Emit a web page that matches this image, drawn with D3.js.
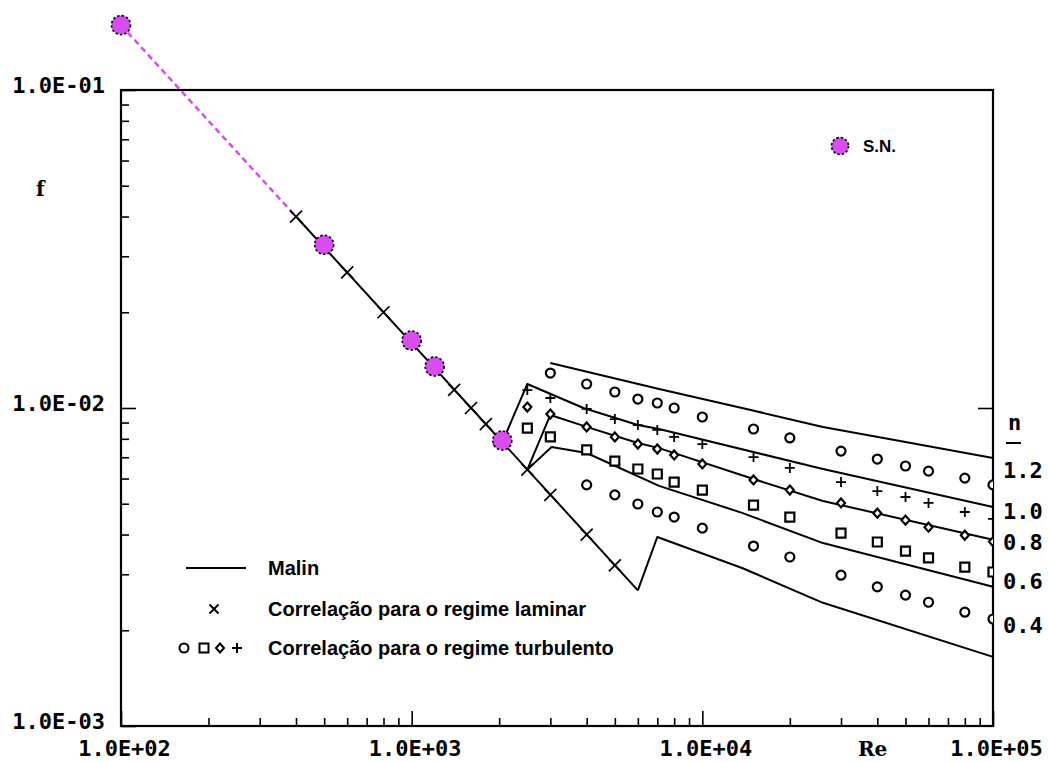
<!DOCTYPE html>
<html>
<head>
<meta charset="utf-8">
<script src="https://cdn.jsdelivr.net/npm/d3@7"></script>
<style>
    body { margin: 0; background: #fff; }
    .tick-label { font-family: "DejaVu Sans Mono", monospace; font-weight: bold; font-size: 22px; }
    .axis-title { font-family: "DejaVu Serif", serif; font-weight: bold; font-size: 20px; }
    .legend-text { font-family: "Liberation Sans", Arial, sans-serif; font-weight: bold; font-size: 20px; }
</style>
</head>
<body>
<div id="chart"></div>
<script>

// ---------------- data ----------------

// axis labels
const xTickValues = [1e2, 1e3, 1e4, 1e5];
const xTickLabels = ["1.0E+02", "1.0E+03", "1.0E+04", "1.0E+05"];
const yTickValues = [1e-3, 1e-2, 1e-1];
const yTickLabels = ["1.0E-03", "1.0E-02", "1.0E-01"];

// S.N. points (magenta dots)
const snRe = [100, 500, 1000, 1200, 2050];
const snF  = [0.16, 0.0326, 0.0163, 0.0135, 0.0079];

// laminar correlation (x markers)
const lamRe = [400, 600, 800, 1000, 1200, 1400, 1600, 1800, 2000, 2500, 3000, 4000, 5000];
const lamF  = [0.04, 0.0267, 0.02, 0.016, 0.0133, 0.0114, 0.01, 0.0089, 0.008, 0.0064, 0.00533, 0.004, 0.0032];

// turbulent correlation, one series per n
const turbRe = [2500, 3000, 4000, 5000, 6000, 7000, 8000, 10000, 15000, 20000, 30000, 40000, 50000, 60000, 80000, 100000];
const turbF12 = [null, 0.01288, 0.01190, 0.01123, 0.01067, 0.01037, 0.01000, 0.00937, 0.00859, 0.00805, 0.00732, 0.00691, 0.00657, 0.00633, 0.00602, 0.00573];
const turbF10 = [0.01139, 0.01075, 0.00993, 0.00923, 0.00884, 0.00853, 0.00811, 0.00770, 0.00701, 0.00648, 0.00585, 0.00548, 0.00525, 0.00503, 0.00471, 0.00448];
const turbF08 = [0.01007, 0.00957, 0.00872, 0.00811, 0.00770, 0.00743, 0.00712, 0.00667, 0.00594, 0.00552, 0.00503, 0.00467, 0.00444, 0.00422, 0.00398, 0.00380];
const turbF06 = [0.00865, 0.00811, 0.00738, 0.00681, 0.00643, 0.00620, 0.00585, 0.00552, 0.00495, 0.00454, 0.00404, 0.00379, 0.00355, 0.00338, 0.00316, 0.00305];
const turbF04 = [null, null, 0.00573, 0.00533, 0.00499, 0.00471, 0.00454, 0.00419, 0.00368, 0.00340, 0.00298, 0.00274, 0.00258, 0.00245, 0.00228, 0.00217];

// Malin curves
const malinDashRe = [100, 400];
const malinDashF  = [0.16, 0.04];
const malinLamRe = [400, 6000];
const malinLamF  = [0.04, 0.00267];
const malin12Re = [3000, 7100, 13700, 26000, 50000, 100000];
const malin12F  = [0.01385, 0.01147, 0.0100, 0.00872, 0.00782, 0.00696];
const malin10Re = [2050, 2500, 3900, 6000, 7100, 26000, 100000];
const malin10F  = [0.0078, 0.0119, 0.0100, 0.00884, 0.00859, 0.00643, 0.00488];
const malin08Re = [2500, 3000, 4000, 6000, 7100, 15000, 26000, 100000];
const malin08F  = [0.0064, 0.00951, 0.00872, 0.00776, 0.00748, 0.00598, 0.00510, 0.00385];
const malin06Re = [2500, 3030, 4000, 7100, 13700, 26000, 100000];
const malin06F  = [0.0064, 0.00754, 0.00722, 0.00569, 0.00468, 0.00376, 0.00274];
const malin04Re = [6000, 7000, 13700, 26000, 100000];
const malin04F  = [0.00267, 0.00393, 0.00314, 0.00244, 0.00165];

// n labels on the right side
const nLabels = ["1.2", "1.0", "0.8", "0.6", "0.4"];
const nLabelF = [0.00638, 0.00474, 0.00379, 0.00286, 0.00208];


class FrictionChart {

    constructor(parentElement) {
        this.parentElement = parentElement;
        this.initVis();
    }

    initVis() {
        let vis = this;

        vis.width = 1048;
        vis.height = 762;
        vis.plot = {left: 121, right: 993, top: 90, bottom: 726};

        vis.svg = d3.select("#" + vis.parentElement).append("svg")
            .attr("width", vis.width)
            .attr("height", vis.height);

        vis.x = d3.scaleLog().domain([1e2, 1e5]).range([vis.plot.left, vis.plot.right]);
        vis.y = d3.scaleLog().domain([1e-3, 1e-1]).range([vis.plot.bottom, vis.plot.top]);

        vis.svg.append("defs").append("clipPath")
            .attr("id", "plot-clip")
            .append("rect")
            .attr("x", vis.plot.left)
            .attr("y", vis.plot.top)
            .attr("width", vis.plot.right - vis.plot.left)
            .attr("height", vis.plot.bottom - vis.plot.top);

        // minor ticks 2..9 in each decade
        let minorX = [], minorY = [];
        [1e2, 1e3, 1e4].forEach(d => d3.range(2, 10).forEach(k => minorX.push(d * k)));
        [1e-3, 1e-2].forEach(d => d3.range(2, 10).forEach(k => minorY.push(d * k)));

        let xMinor = vis.svg.append("g")
            .attr("transform", `translate(0,${vis.plot.bottom})`)
            .call(d3.axisBottom(vis.x).tickValues(minorX).tickSize(-8).tickFormat(""));
        let yMinor = vis.svg.append("g")
            .attr("transform", `translate(${vis.plot.left},0)`)
            .call(d3.axisLeft(vis.y).tickValues(minorY).tickSize(-8).tickFormat(""));

        let xMajor = vis.svg.append("g")
            .attr("transform", `translate(0,${vis.plot.bottom})`)
            .call(d3.axisBottom(vis.x).tickValues(xTickValues).tickSize(-15).tickPadding(14)
                .tickFormat((d, i) => xTickLabels[i]));
        let yMajor = vis.svg.append("g")
            .attr("transform", `translate(${vis.plot.left},0)`)
            .call(d3.axisLeft(vis.y).tickValues(yTickValues).tickSize(-15).tickPadding(14)
                .tickFormat((d, i) => yTickLabels[i]));
        let yRight = vis.svg.append("g")
            .attr("transform", `translate(${vis.plot.right},0)`)
            .call(d3.axisRight(vis.y).tickValues([1e-2]).tickSize(-15).tickFormat(""));

        [xMinor, yMinor, xMajor, yMajor, yRight].forEach(g => {
            g.select(".domain").remove();
            g.selectAll(".tick line").attr("stroke", "#000").attr("stroke-width", 1.6);
        });

        xMajor.selectAll("text").attr("class", "tick-label").attr("fill", "#000").attr("dx", 3);
        yMajor.selectAll("text").attr("class", "tick-label").attr("fill", "#000").attr("dx", -2).attr("dy", "0.1em");

        // frame
        vis.svg.append("rect")
            .attr("x", vis.plot.left)
            .attr("y", vis.plot.top)
            .attr("width", vis.plot.right - vis.plot.left)
            .attr("height", vis.plot.bottom - vis.plot.top)
            .attr("fill", "none")
            .attr("stroke", "#000")
            .attr("stroke-width", 2.2);

        // axis titles
        vis.svg.append("text").attr("class", "axis-title").attr("x", 36).attr("y", 196).text("f");
        vis.svg.append("text").attr("class", "axis-title").attr("x", 858).attr("y", 756).text("Re");
        vis.svg.append("text").attr("class", "tick-label").attr("x", 1008).attr("y", 430).text("n");
        vis.svg.append("line")
            .attr("x1", 1006).attr("x2", 1021).attr("y1", 443).attr("y2", 443)
            .attr("stroke", "#000").attr("stroke-width", 2);

        vis.svg.selectAll(".n-label")
            .data(nLabels)
            .enter()
            .append("text")
            .attr("class", "tick-label n-label")
            .attr("x", 1003)
            .attr("y", (d, i) => vis.y(nLabelF[i]))
            .attr("dy", "0.36em")
            .text(d => d);

        vis.updateVis();
    }

    updateVis() {
        let vis = this;

        let line = d3.line()
            .x(d => vis.x(d[0]))
            .y(d => vis.y(d[1]));

        let zip = (a, b) => a.map((d, i) => [d, b[i]]);

        // dashed extension of the S.N. points
        vis.svg.append("path")
            .attr("d", line(zip(malinDashRe, malinDashF)))
            .attr("fill", "none")
            .attr("stroke", "#d64ee8")
            .attr("stroke-width", 2.5)
            .attr("stroke-dasharray", "6,4");

        // Malin curves
        let malin = [
            zip(malinLamRe, malinLamF),
            zip(malin12Re, malin12F),
            zip(malin10Re, malin10F),
            zip(malin08Re, malin08F),
            zip(malin06Re, malin06F),
            zip(malin04Re, malin04F)
        ];

        vis.svg.selectAll(".malin")
            .data(malin)
            .enter()
            .append("path")
            .attr("class", "malin")
            .attr("d", d => line(d))
            .attr("fill", "none")
            .attr("stroke", "#000")
            .attr("stroke-width", 2)
            .attr("stroke-linejoin", "round");

        // turbulent markers
        let markers = vis.svg.append("g").attr("clip-path", "url(#plot-clip)");
        let series = [
            {f: turbF12, shape: "circle"},
            {f: turbF10, shape: "plus"},
            {f: turbF08, shape: "diamond"},
            {f: turbF06, shape: "square"},
            {f: turbF04, shape: "circle"}
        ];

        series.forEach(s => {
            let pts = zip(turbRe, s.f).filter(d => d[1] !== null);
            markers.selectAll(null)
                .data(pts)
                .enter()
                .append("path")
                .attr("transform", d => `translate(${vis.x(d[0])},${vis.y(d[1])})`)
                .attr("d", vis.shapePath(s.shape))
                .attr("fill", s.shape === "plus" ? "none" : "#fff")
                .attr("stroke", "#000")
                .attr("stroke-width", s.shape === "plus" ? 1.8 : 2.2);
        });

        // laminar markers
        vis.svg.selectAll(".lam")
            .data(zip(lamRe, lamF))
            .enter()
            .append("path")
            .attr("class", "lam")
            .attr("transform", d => `translate(${vis.x(d[0])},${vis.y(d[1])})`)
            .attr("d", vis.shapePath("cross"))
            .attr("stroke", "#000")
            .attr("stroke-width", 1.7);

        // S.N. dots
        vis.svg.selectAll(".sn")
            .data(zip(snRe, snF))
            .enter()
            .append("circle")
            .attr("class", "sn")
            .attr("cx", d => vis.x(d[0]))
            .attr("cy", d => vis.y(d[1]))
            .attr("r", 9.5)
            .attr("fill", "#d94cf0")
            .attr("stroke", "#000")
            .attr("stroke-width", 1.6)
            .attr("stroke-dasharray", "2.5,2");

        vis.drawLegend();
    }

    shapePath(shape) {
        if (shape === "circle") return "M4.5,0A4.5,4.5 0 1,1 -4.5,0A4.5,4.5 0 1,1 4.5,0Z";
        if (shape === "square") return "M-4.5,-4.5H4.5V4.5H-4.5Z";
        if (shape === "diamond") return "M0,-4.5L4,0L0,4.5L-4,0Z";
        if (shape === "plus") return "M-5,0H5M0,-5V5";
        return "M-6,-6L6,6M-6,6L6,-6";
    }

    drawLegend() {
        let vis = this;
        let lg = vis.svg.append("g");

        lg.append("line")
            .attr("x1", 186).attr("x2", 246).attr("y1", 568).attr("y2", 568)
            .attr("stroke", "#000").attr("stroke-width", 2);
        lg.append("text").attr("class", "legend-text").attr("x", 268).attr("y", 575).text("Malin");

        lg.append("path")
            .attr("transform", "translate(214,609)")
            .attr("d", "M-4.5,-4.5L4.5,4.5M-4.5,4.5L4.5,-4.5")
            .attr("stroke", "#000").attr("stroke-width", 2);
        lg.append("text").attr("class", "legend-text").attr("x", 268).attr("y", 616)
            .text("Correlação para o regime laminar");

        [["circle", 184], ["square", 204], ["diamond", 220], ["plus", 237]].forEach(m => {
            lg.append("path")
                .attr("transform", `translate(${m[1]},648)`)
                .attr("d", vis.shapePath(m[0]))
                .attr("fill", "none")
                .attr("stroke", "#000")
                .attr("stroke-width", 2);
        });
        lg.append("text").attr("class", "legend-text").attr("x", 268).attr("y", 655)
            .text("Correlação para o regime turbulento");

        // S.N. key
        lg.append("circle")
            .attr("cx", 840).attr("cy", 146).attr("r", 8.5)
            .attr("fill", "#d94cf0")
            .attr("stroke", "#000")
            .attr("stroke-width", 1.6)
            .attr("stroke-dasharray", "2.5,2");
        lg.append("text").attr("class", "legend-text").attr("x", 863).attr("y", 152)
            .style("font-size", "17px").text("S.N.");
    }
}

let chart = new FrictionChart("chart");

</script>
</body>
</html>
